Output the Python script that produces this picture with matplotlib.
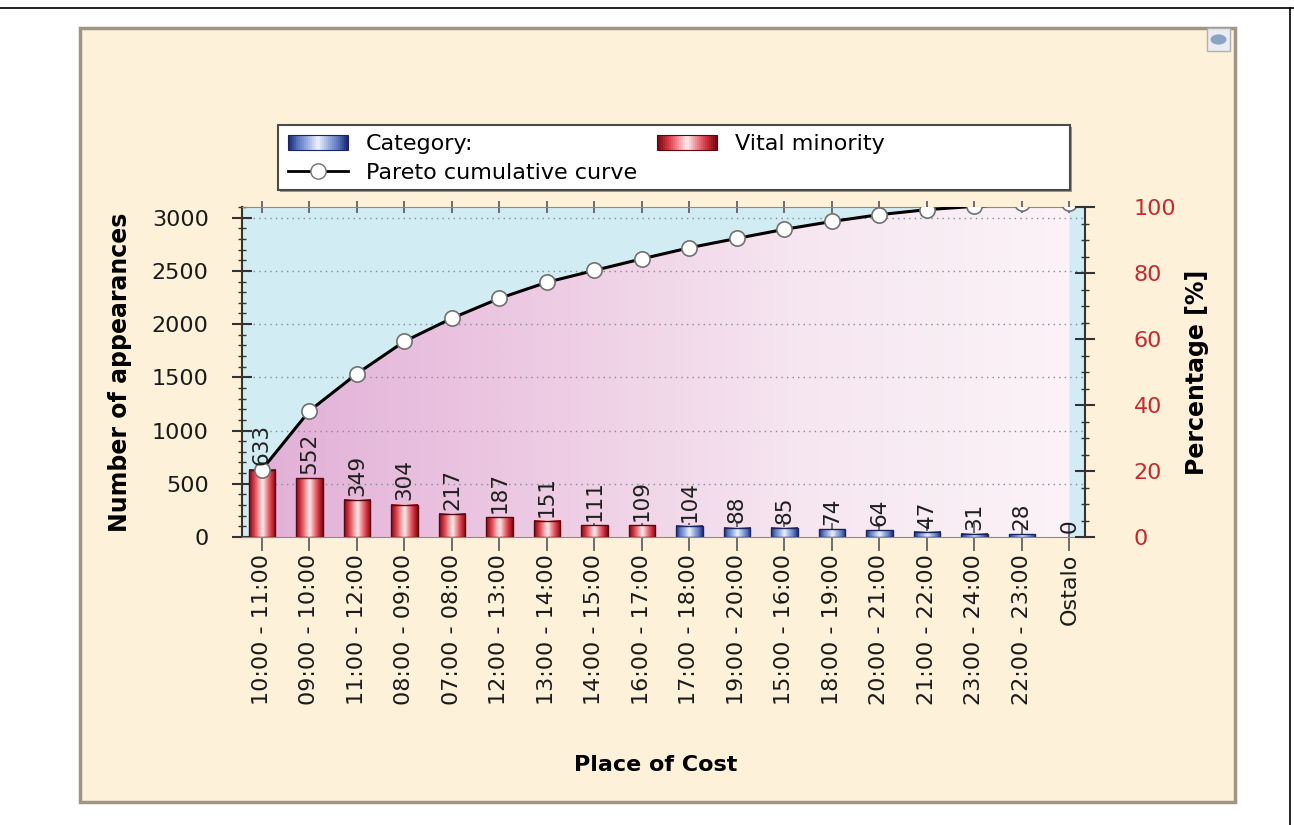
import numpy as np
import matplotlib
matplotlib.use("Agg")
import matplotlib.pyplot as plt
from matplotlib.patches import Rectangle, Polygon, Circle
from matplotlib.lines import Line2D
from matplotlib.colors import LinearSegmentedColormap
from matplotlib.legend_handler import HandlerBase
from matplotlib.ticker import MultipleLocator

plt.rcParams['font.family'] = ['DejaVu Sans']

categories = ["10:00 - 11:00", "09:00 - 10:00", "11:00 - 12:00", "08:00 - 09:00",
              "07:00 - 08:00", "12:00 - 13:00", "13:00 - 14:00", "14:00 - 15:00",
              "16:00 - 17:00", "17:00 - 18:00", "19:00 - 20:00", "15:00 - 16:00",
              "18:00 - 19:00", "20:00 - 21:00", "21:00 - 22:00", "23:00 - 24:00",
              "22:00 - 23:00", "Ostalo"]
counts = [633, 552, 349, 304, 217, 187, 151, 111, 109, 104, 88, 85, 74, 64, 47, 31, 28, 0]
vital_minority = [True] * 9 + [False] * 9
left_axis_top = 3100

W, H = 1294, 825
fig = plt.figure(figsize=(W / 100, H / 100), dpi=100)
fig.patch.set_facecolor("white")

# page frame lines
fig.add_artist(Line2D([0, 1], [1 - 8 / H, 1 - 8 / H], color="black", lw=1.2, transform=fig.transFigure))
fig.add_artist(Line2D([1290 / W, 1290 / W], [0, 1 - 8 / H], color="black", lw=1.2, transform=fig.transFigure))

# beige panel
fig.add_artist(Rectangle((80 / W, 1 - 802 / H), 1155 / W, 774 / H, transform=fig.transFigure,
                         facecolor="#FDF1D9", edgecolor="#A09583", lw=2.5, zorder=0))
# small icon in the panel corner
fig.add_artist(Rectangle((1207 / W, 1 - 51 / H), 23 / W, 23 / H, transform=fig.transFigure,
                         facecolor="#E9ECF1", edgecolor="#B0B0B0", lw=1, zorder=1))
fig.add_artist(Circle((1218.5 / W, 1 - 39.5 / H), 8 / W, transform=fig.transFigure,
                      facecolor="#8AA4C8", edgecolor="none", zorder=2))

ax = fig.add_axes([242 / W, 1 - 537 / H, (1085 - 242) / W, (537 - 207) / H])
ax.set_facecolor("#D2ECF4")

n = len(counts)
x = np.arange(n)
cum = np.cumsum(counts)

XMIN, XMAX = -0.42, 17.33

# pink gradient under the cumulative curve
verts = [(0, 0)] + list(zip(x, cum)) + [(n - 1, 0)]
clip = Polygon(verts, closed=True, transform=ax.transData, facecolor="none", edgecolor="none")
ax.add_patch(clip)
pink = LinearSegmentedColormap.from_list("pink", ["#E2B0D7", "#EDCAE3", "#F6E6F0", "#FBF3F7"])
grad = np.linspace(0, 1, 256).reshape(1, -1)
im = ax.imshow(grad, cmap=pink, extent=[0, n - 1, 0, left_axis_top], aspect="auto", zorder=1,
               interpolation="bicubic")
im.set_clip_path(clip)

# dotted grid
for gy in range(500, 3001, 500):
    ax.axhline(gy, color="#7E8A98", lw=1.0, ls=(0, (1, 3)), zorder=1.5)

red_cmap = LinearSegmentedColormap.from_list(
    "redbar", ["#7A0A14", "#D2323E", "#F08890", "#FFF0F0", "#F08890", "#D2323E", "#7A0A14"])
blue_cmap = LinearSegmentedColormap.from_list(
    "bluebar", ["#1E2C78", "#5F7CC4", "#9FB4E2", "#EEF2FF", "#9FB4E2", "#5F7CC4", "#1E2C78"])

bw = 0.56
for xi, v, vm in zip(x, counts, vital_minority):
    cm = red_cmap if vm else blue_cmap
    if v > 0:
        ax.imshow(grad, cmap=cm, extent=[xi - bw / 2, xi + bw / 2, 0, v], aspect="auto",
                  zorder=2, interpolation="bicubic")
        ax.add_patch(Rectangle((xi - bw / 2, 0), bw, v, facecolor="none",
                               edgecolor="#5A0810" if vm else "#1A2460", lw=1.0, zorder=2.1))
    ax.annotate(str(v), (xi, v), xytext=(0, 3), textcoords="offset points", rotation=90,
                ha="center", va="bottom", fontsize=15.5, color="#1E1E1E", zorder=5)

# cumulative Pareto curve
ax.plot(x, cum, color="black", lw=2.2, zorder=3)
ax.plot(x, cum, ls="none", marker="o", ms=11, mfc="white", mec="#707070", mew=1.2, zorder=4)

ax.set_xlim(XMIN, XMAX)
ax.set_ylim(0, left_axis_top)

ax.set_xticks(x)
ax.set_xticklabels(categories, rotation=90, fontsize=16, color="#1A1A1A")
ax.tick_params(axis="x", which="major", direction="inout", length=20, width=1.2,
               color="#555555", pad=2, top=True)
ax.yaxis.set_major_locator(MultipleLocator(500))
ax.yaxis.set_minor_locator(MultipleLocator(100))
ax.tick_params(axis="y", which="major", direction="inout", length=14, width=1.5,
               color="#333333", labelsize=16, pad=17, labelcolor="#1A1A1A")
ax.tick_params(axis="y", which="minor", direction="inout", length=6, width=1.0, color="#333333")
for t in ax.xaxis.get_major_ticks():
    t.tick2line.set_markersize(8)

ax.spines["left"].set_color("#333333")
ax.spines["left"].set_linewidth(1.5)
ax.spines["bottom"].set_color("#8A8A8A")
ax.spines["top"].set_color("#8A8A8A")
ax.spines["right"].set_visible(False)

ax.set_ylabel("Number of appearances", fontsize=17, fontweight="bold", labelpad=14)
fig.text(656 / W, 1 - 765 / H, "Place of Cost", fontsize=16, fontweight="bold",
         ha="center", va="center")

ax2 = ax.twinx()
ax2.set_ylim(0, 100)
ax2.yaxis.set_major_locator(MultipleLocator(20))
ax2.yaxis.set_minor_locator(MultipleLocator(5))
ax2.tick_params(axis="y", which="major", direction="inout", length=14, width=1.5,
                color="#333333", labelsize=16, labelcolor="#C8282E", pad=28)
ax2.tick_params(axis="y", which="minor", direction="inout", length=6, width=1.0, color="#333333")
for s in ["left", "top", "bottom"]:
    ax2.spines[s].set_visible(False)
ax2.spines["right"].set_color("#333333")
ax2.spines["right"].set_linewidth(1.5)
ax2.set_ylabel("Percentage [%]", fontsize=17, fontweight="bold", labelpad=6)


class GradientHandler(HandlerBase):
    def __init__(self, cmap, edge):
        super().__init__()
        self.cmap = cmap
        self.edge = edge

    def create_artists(self, legend, orig_handle, xdescent, ydescent, width, height,
                       fontsize, trans):
        arts = []
        k = 30
        y0 = -ydescent
        hh = height
        for i in range(k):
            r = Rectangle((-xdescent + width * i / k, y0), width / k + 0.3, hh,
                          facecolor=self.cmap(i / (k - 1)), edgecolor="none", transform=trans)
            arts.append(r)
        arts.append(Rectangle((-xdescent, y0), width, hh, facecolor="none",
                              edgecolor=self.edge, lw=0.8, transform=trans))
        return arts


cat_handle = Rectangle((0, 0), 1, 1)
vital_handle = Rectangle((0, 0), 1, 1)
curve_handle = Line2D([], [], color="black", lw=2, marker="o", ms=11, mfc="white", mec="#707070")

# legend frame
fig.add_artist(Rectangle((280 / W, 1 - 192 / H), 792 / W, 65 / H, transform=fig.transFigure,
                         facecolor="#9A9A9A", edgecolor="none", zorder=3))
fig.add_artist(Rectangle((278 / W, 1 - 190 / H), 792 / W, 65 / H, transform=fig.transFigure,
                         facecolor="white", edgecolor="#4A4A4A", lw=1.5, zorder=3.1))

leg = fig.legend([cat_handle, curve_handle, vital_handle],
                 ["Category:", "Pareto cumulative curve", "Vital minority"],
                 ncol=2, loc="upper left", bbox_to_anchor=(279 / W, 1 - 125 / H),
                 frameon=False, fontsize=16, handlelength=2.7, handleheight=0.65,
                 handletextpad=0.8, columnspacing=0.9, labelspacing=0.4,
                 borderpad=0.4, borderaxespad=0,
                 handler_map={cat_handle: GradientHandler(blue_cmap, "#1A2460"),
                              vital_handle: GradientHandler(red_cmap, "#5A0810")})
leg.set_zorder(4)

fig.savefig("out.png", dpi=100, facecolor="white")
